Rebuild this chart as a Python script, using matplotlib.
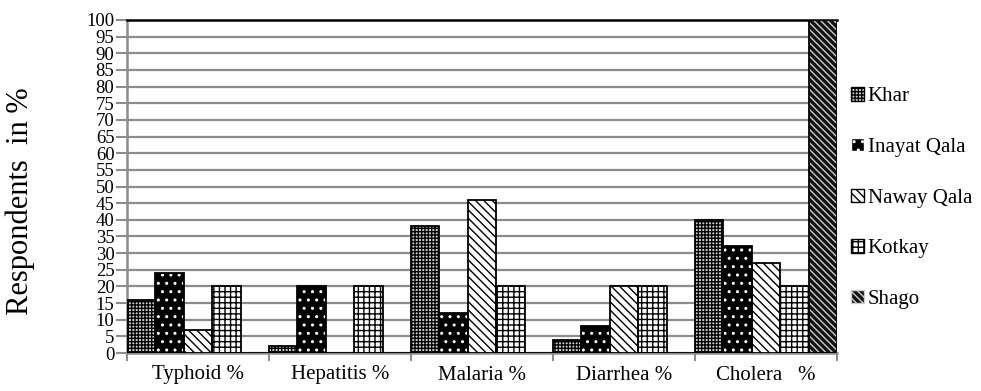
import matplotlib
matplotlib.use("Agg")
import matplotlib.pyplot as plt
import numpy as np
from matplotlib.patches import Patch

categories = ["Typhoid %", "Hepatitis %", "Malaria %", "Diarrhea %", "Cholera   %"]
series_names = ["Khar", "Inayat Qala", "Naway Qala", "Kotkay", "Shago"]
khar = [16, 2, 38, 4, 40]
inayat = [24, 20, 12, 8, 32]
naway = [7, 0, 46, 20, 27]
kotkay = [20, 20, 20, 20, 20]
shago = [0, 0, 0, 0, 100]
yticks = list(range(0, 101, 5))

plt.rcParams['font.family'] = ['Liberation Serif', 'DejaVu Serif']
plt.rcParams['hatch.linewidth'] = 1.0

styles = [
    dict(face="#d0d0d0", hatch="+++++", hcol="#000000"),
    dict(face="#000000", hatch="..", hcol="#ffffff"),
    dict(face="#ffffff", hatch="\\\\\\\\", hcol="#000000"),
    dict(face="#ffffff", hatch="+++", hcol="#000000"),
    dict(face="#111111", hatch="\\\\\\\\\\", hcol="#cccccc"),
]

fig = plt.figure(figsize=(9.81, 3.91), dpi=100)
ax = fig.add_axes([127/981, 38/391, 710/981, 333/391])

data = [khar, inayat, naway, kotkay, shago]
x = np.arange(len(categories))
w = 0.2
for i, (vals, st) in enumerate(zip(data, styles)):
    pos = x + i * w
    ax.bar(pos, vals, width=w, align='edge', color=st["face"], edgecolor=st["hcol"],
           hatch=st["hatch"], linewidth=0, zorder=3)
    ax.bar(pos, vals, width=w, align='edge', fill=False, edgecolor="black",
           linewidth=1.3, zorder=4)

ax.set_xlim(0, 5)
ax.set_ylim(0, 100)
ax.set_yticks(yticks)
ax.set_yticklabels([str(t) for t in yticks], fontsize=13.5)
ax.yaxis.grid(True, color="#8c8c8c", linewidth=1.6, zorder=0)
ax.set_axisbelow(True)

ax.set_xticks(np.arange(0, 6))
ax.set_xticklabels([])
ax.set_xticks(x + 0.5, minor=True)
ax.set_xticklabels(categories, minor=True, fontsize=15)
ax.tick_params(axis='x', which='minor', length=0, pad=9)
ax.tick_params(axis='x', which='major', length=6, color="#8c8c8c", width=1.5)
ax.tick_params(axis='y', length=8, color="#8c8c8c", width=1.5, pad=1)

ax.spines["right"].set_visible(False)
ax.spines["top"].set_color("black")
ax.spines["top"].set_linewidth(1.8)
ax.spines["left"].set_color("#8c8c8c")
ax.spines["left"].set_linewidth(1.8)
ax.spines["bottom"].set_color("#8c8c8c")
ax.spines["bottom"].set_linewidth(1.8)

ax.set_ylabel("Respondents  in %", fontsize=22)
ax.yaxis.set_label_coords(-92/710, (391 - 38 - 201) / 333)

handles = [Patch(facecolor=st["face"], edgecolor=st["hcol"], hatch=st["hatch"], linewidth=1.0)
           for st in styles]
leg = fig.legend(handles, series_names, loc="center left", bbox_to_anchor=(851/981, 0.493),
                 frameon=False, fontsize=15, handlelength=0.6, handleheight=0.6,
                 handletextpad=0.2, labelspacing=1.52, borderaxespad=0, borderpad=0)

fig.savefig("out.png", dpi=100)
